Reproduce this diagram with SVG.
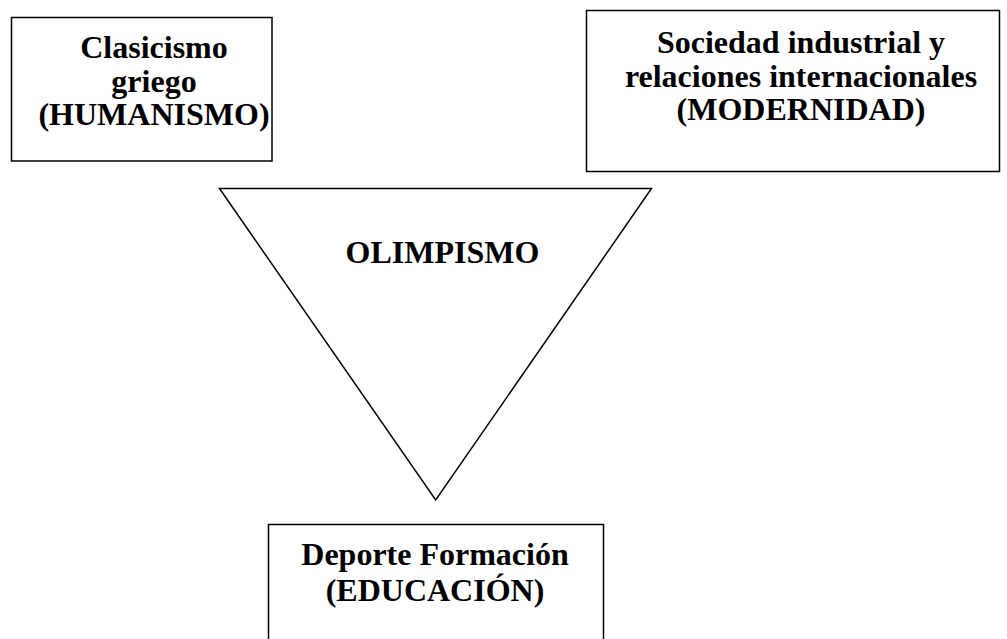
<svg xmlns="http://www.w3.org/2000/svg" width="1007" height="639" viewBox="0 0 1007 639">
<style>
.box{fill:#fff;stroke:#000;stroke-width:1.5}
.t{font-family:"Liberation Serif","Times New Roman",serif;font-weight:bold;font-size:32px;fill:#000;text-anchor:middle}
</style>
<rect width="1007" height="639" fill="#fff"/>
<g id="connectors"></g>
<g id="clasicismo">
<rect class="box" x="11.5" y="17.5" width="260.5" height="143.5"/>
<text class="t" x="154" y="58">Clasicismo</text>
<text class="t" x="154" y="92">griego</text>
<text class="t" x="154" y="125">(HUMANISMO)</text>
</g>
<g id="sociedad">
<rect class="box" x="586.5" y="10.5" width="413" height="161"/>
<text class="t" x="801" y="53">Sociedad industrial y</text>
<text class="t" x="801" y="87">relaciones internacionales</text>
<text class="t" x="801" y="120">(MODERNIDAD)</text>
</g>
<g id="olimpismo">
<polygon class="box" points="219.5,188.5 651.5,188.5 435.7,500"/>
<text class="t" x="442.5" y="263">OLIMPISMO</text>
</g>
<g id="deporte">
<rect class="box" x="268.5" y="524.5" width="335" height="130"/>
<text class="t" x="435" y="565">Deporte Formación</text>
<text class="t" x="435" y="601">(EDUCACIÓN)</text>
</g>
</svg>
